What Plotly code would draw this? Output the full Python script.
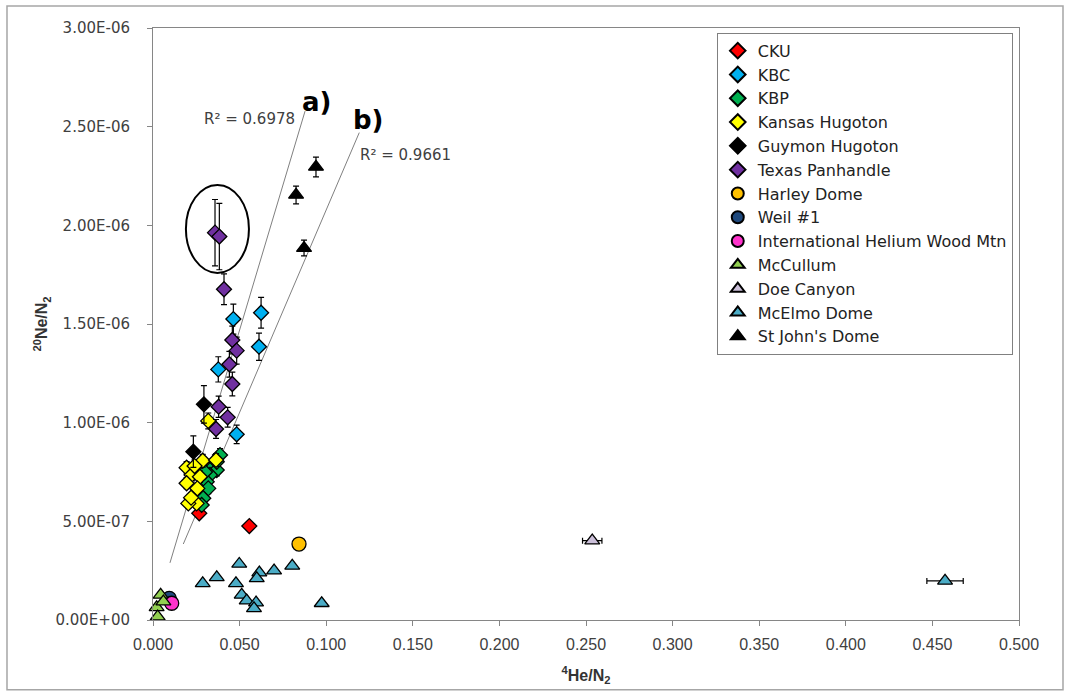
import plotly.graph_objects as go

# ---- data: 4He/N2 (x) and 20Ne/N2 (y) by field ----
cku_x = [0.0267, 0.0556]
cku_y = [0.541e-6, 0.476e-6]

kbc_x = [0.0464, 0.0624, 0.0612, 0.0377, 0.0483]
kbc_y = [1.525e-6, 1.557e-6, 1.385e-6, 1.270e-6, 0.941e-6]
kbc_ye = [0.076e-6, 0.078e-6, 0.069e-6, 0.064e-6, 0.047e-6]

kbp_x = [0.0387, 0.0339, 0.0368, 0.0329, 0.0310, 0.0319, 0.0290, 0.0281, 0.0368, 0.0300]
kbp_y = [0.836e-6, 0.769e-6, 0.760e-6, 0.735e-6, 0.701e-6, 0.667e-6, 0.617e-6, 0.583e-6, 0.802e-6, 0.750e-6]
kbp_ye = [0.033e-6, 0.031e-6, 0.030e-6, 0.029e-6, 0.028e-6, 0.027e-6, 0.025e-6, 0.023e-6, 0.032e-6, 0.030e-6]

kh_x = [0.0319, 0.0287, 0.0364, 0.0194, 0.0223, 0.0271, 0.0194, 0.0256, 0.0252, 0.0204, 0.0240, 0.0220]
kh_y = [1.009e-6, 0.807e-6, 0.811e-6, 0.772e-6, 0.735e-6, 0.726e-6, 0.693e-6, 0.667e-6, 0.591e-6, 0.591e-6, 0.780e-6, 0.620e-6]
kh_ye = [0.040e-6, 0.032e-6, 0.032e-6, 0.031e-6, 0.029e-6, 0.029e-6, 0.028e-6, 0.027e-6, 0.024e-6, 0.024e-6, 0.031e-6, 0.025e-6]

gh_x = [0.0294, 0.0233]
gh_y = [1.093e-6, 0.853e-6]
gh_ye = [0.095e-6, 0.080e-6]

tp_x = [0.0358, 0.0383, 0.0410, 0.0458, 0.0483, 0.0441, 0.0458, 0.0379, 0.0431, 0.0364]
tp_y = [1.963e-6, 1.943e-6, 1.676e-6, 1.419e-6, 1.365e-6, 1.296e-6, 1.196e-6, 1.081e-6, 1.027e-6, 0.968e-6]
tp_ye = [0.168e-6, 0.168e-6, 0.078e-6, 0.070e-6, 0.068e-6, 0.065e-6, 0.060e-6, 0.054e-6, 0.050e-6, 0.048e-6]

hd_x = [0.0843]
hd_y = [0.385e-6]

weil_x = [0.0094]
weil_y = [0.110e-6]

ihwm_x = [0.0108]
ihwm_y = [0.085e-6]

mcc_x = [0.0044, 0.0021, 0.0027, 0.0060]
mcc_y = [0.127e-6, 0.064e-6, 0.017e-6, 0.093e-6]

doe_x = [0.2536]
doe_y = [0.402e-6]
doe_xe = [0.0056]

mce_x = [0.0287, 0.0368, 0.0498, 0.0479, 0.0614, 0.0599, 0.0699, 0.0804, 0.0512, 0.0541, 0.0595, 0.0583, 0.0974, 0.4573]
mce_y = [0.186e-6, 0.216e-6, 0.284e-6, 0.186e-6, 0.240e-6, 0.211e-6, 0.250e-6, 0.274e-6, 0.127e-6, 0.098e-6, 0.088e-6, 0.059e-6, 0.085e-6, 0.198e-6]
mce_xe = [None] * 13 + [0.0105]

sjd_x = [0.0941, 0.0826, 0.0872]
sjd_y = [2.296e-6, 2.154e-6, 1.885e-6]
sjd_ye = [0.050e-6, 0.045e-6, 0.040e-6]

# linear fits: slope, intercept, drawn x-range, R^2 label, tag
fit_slope = [2.935e-5, 2.052e-5]
fit_icpt = [0.002e-6, 0.026e-6]
fit_x0 = [0.0098, 0.0175]
fit_x1 = [0.0878, 0.1191]
fit_r2 = ["R² = 0.6978", "R² = 0.9661"]
fit_tag = ["a)", "b)"]

x_ticks = [0.0, 0.05, 0.1, 0.15, 0.2, 0.25, 0.3, 0.35, 0.4, 0.45, 0.5]
x_ticktext = ["0.000", "0.050", "0.100", "0.150", "0.200", "0.250", "0.300", "0.350", "0.400", "0.450", "0.500"]
y_ticks = [0.0, 0.5e-6, 1.0e-6, 1.5e-6, 2.0e-6, 2.5e-6, 3.0e-6]
y_ticktext = ["0.00E+00", "5.00E-07", "1.00E-06", "1.50E-06", "2.00E-06", "2.50E-06", "3.00E-06"]

# highlighted pair (ellipse bounds in data units)
ell_x = [0.0190, 0.0554]
ell_y = [1.759e-6, 2.205e-6]

fig = go.Figure()

# fit lines first so markers sit over them
for m, b, a, z in zip(fit_slope, fit_icpt, fit_x0, fit_x1):
    fig.add_trace(go.Scatter(
        x=[a, z], y=[m * a + b, m * z + b], mode="lines",
        line=dict(color="#808080", width=1), showlegend=False, hoverinfo="skip"))

EDGE = dict(color="#000000", width=1.3)


def err(arr):
    if arr is None:
        return None
    return dict(type="data", array=arr, visible=True, color="#000000", thickness=1.2, width=3)


series = [
    ("CKU", cku_x, cku_y, None, None, "diamond", "#FF0000", 11.5),
    ("KBC", kbc_x, kbc_y, kbc_ye, None, "diamond", "#00B0F0", 11.5),
    ("KBP", kbp_x, kbp_y, kbp_ye, None, "diamond", "#00B050", 11.5),
    ("Kansas Hugoton", kh_x, kh_y, kh_ye, None, "diamond", "#FFFF00", 11.5),
    ("Guymon Hugoton", gh_x, gh_y, gh_ye, None, "diamond", "#000000", 11.5),
    ("Texas Panhandle", tp_x, tp_y, tp_ye, None, "diamond", "#7030A0", 11.5),
    ("Harley Dome", hd_x, hd_y, None, None, "circle", "#FFC000", 14),
    ("Weil #1", weil_x, weil_y, None, None, "circle", "#1F497D", 14),
    ("International Helium Wood Mtn", ihwm_x, ihwm_y, None, None, "circle", "#FF33CC", 14),
    ("McCullum", mcc_x, mcc_y, None, None, "triangle-up", "#92D050", 13),
    ("Doe Canyon", doe_x, doe_y, None, doe_xe, "triangle-up", "#CCC0DA", 13),
    ("McElmo Dome", mce_x, mce_y, None, mce_xe, "triangle-up", "#4BACC6", 13),
    ("St John's Dome", sjd_x, sjd_y, sjd_ye, None, "triangle-up", "#000000", 13),
]

for name, xs, ys, ye, xe, sym, col, size in series:
    fig.add_trace(go.Scatter(
        x=xs, y=ys, mode="markers", name=name, legendgroup=name,
        marker=dict(symbol=sym, color=col, size=size, line=EDGE),
        error_y=err(ye), error_x=err(xe), cliponaxis=False))

# R^2 labels and line tags
fig.add_annotation(x=0.083, y=2.537e-6, text=fit_r2[0], showarrow=False, xanchor="right",
                   font=dict(family="DejaVu Sans", size=15, color="#404040"))
fig.add_annotation(x=0.1184, y=2.357e-6, text=fit_r2[1], showarrow=False, xanchor="left",
                   font=dict(family="DejaVu Sans", size=15, color="#404040"))
fig.add_annotation(x=0.0945, y=2.625e-6, text="<b>" + fit_tag[0] + "</b>", showarrow=False,
                   font=dict(family="DejaVu Sans", size=26, color="#000000"))
fig.add_annotation(x=0.1247, y=2.535e-6, text="<b>" + fit_tag[1] + "</b>", showarrow=False,
                   font=dict(family="DejaVu Sans", size=26, color="#000000"))

# ellipse around the high-Ne Texas Panhandle pair
fig.add_shape(type="circle", xref="x", yref="y", x0=ell_x[0], x1=ell_x[1], y0=ell_y[0], y1=ell_y[1],
              line=dict(color="#000000", width=2))

# outer chart frame
fig.add_shape(type="rect", xref="paper", yref="paper", x0=-0.1686, x1=1.0508, y0=-0.118, y1=1.037,
              line=dict(color="#A6A6A6", width=1.5), layer="below")

AX = "#868686"
fig.update_xaxes(range=[0, 0.5], tickvals=x_ticks, ticktext=x_ticktext,
                 showline=True, linecolor=AX, linewidth=1, mirror=True,
                 ticks="outside", ticklen=5, tickcolor=AX, showgrid=False, zeroline=False,
                 ticklabelstandoff=5,
                 tickfont=dict(family="Liberation Sans", size=16, color="#404040"),
                 title=dict(text="<b><sup>4</sup>He/N<sub>2</sub></b>", standoff=17,
                            font=dict(family="Liberation Sans", size=16, color="#333333")))
fig.update_yaxes(range=[0, 3e-6], tickvals=y_ticks, ticktext=y_ticktext,
                 showline=True, linecolor=AX, linewidth=1, mirror=True,
                 ticks="outside", ticklen=5, tickcolor=AX, showgrid=False, zeroline=False,
                 ticklabelstandoff=14,
                 tickfont=dict(family="DejaVu Sans", size=15, color="#404040"),
                 title=dict(text="<b><sup>20</sup>Ne/N<sub>2</sub></b>", standoff=3,
                            font=dict(family="Liberation Sans", size=16, color="#333333")))

fig.update_layout(
    width=1068, height=696,
    margin=dict(l=153, r=49, t=28, b=76),
    paper_bgcolor="#FFFFFF", plot_bgcolor="#FFFFFF",
    legend=dict(x=0.651, y=0.992, xanchor="left", yanchor="top",
                bordercolor="#808080", borderwidth=1, bgcolor="#FFFFFF",
                font=dict(family="DejaVu Sans", size=16, color="#222222"),
                itemsizing="constant", tracegroupgap=2.4, traceorder="normal"),
    showlegend=True,
)

fig.write_html("out.html")
